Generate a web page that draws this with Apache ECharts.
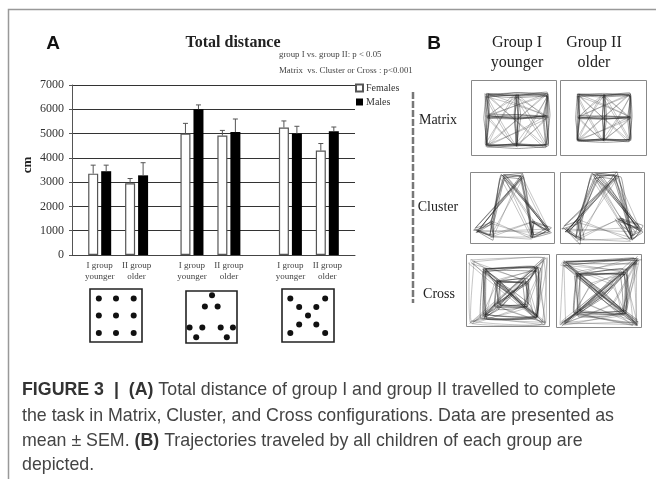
<!DOCTYPE html>
<html><head><meta charset="utf-8">
<script src="https://cdn.jsdelivr.net/npm/echarts@6/dist/echarts.min.js"></script>
<style>html,body{margin:0;padding:0;background:#fff}#c{width:656px;height:479px;filter:blur(.35px)}</style>
</head><body><div id="c"></div>
<script>
// ---- data ----
const barLabels = ['I group\nyounger','II group\nolder','I group\nyounger','II group\nolder','I group\nyounger','II group\nolder'];
const females    = [3350, 2950, 5000, 4920, 5250, 4300];
const femalesTop = [3700, 3150, 5420, 5130, 5520, 4590];
const males      = [3450, 3280, 6000, 5060, 5000, 5100];
const malesTop   = [3700, 3800, 6180, 5600, 5300, 5270];
// axis slots holding each pair of bars
const slotCount = 46;
const slots = [4,10,19,25,35,41];

// ---- axis tables ----
const cats = Array.from({length:slotCount},(_,i)=>{const k=slots.indexOf(i);return k<0?'':barLabels[k];});
const spread = a => cats.map((_,i)=>{const k=slots.indexOf(i);return k<0?null:a[k];});
const errData = (vals,tops)=>slots.map((s,k)=>[s,vals[k],tops[k]]);

const SERIF = '"Liberation Serif","Times New Roman",serif';
const SANS  = '"Liberation Sans",Arial,sans-serif';

function errSeries(name,vals,tops,off){
  return {type:'custom',name:name,silent:true,z:4,data:errData(vals,tops),encode:{x:0,y:[1,2]},
    renderItem:(p,api)=>{
      const a=api.coord([api.value(0),api.value(1)]),b=api.coord([api.value(0),api.value(2)]);
      const x=a[0]+off;
      return {type:'group',children:[
        {type:'line',shape:{x1:x,y1:a[1],x2:x,y2:b[1]},style:{stroke:'#555',lineWidth:1}},
        {type:'line',shape:{x1:x-2.5,y1:b[1],x2:x+2.5,y2:b[1]},style:{stroke:'#555',lineWidth:1}}
      ]};
    }};
}

// ---- panel A stimulus layouts ----
const stim = [
 {box:[90,289,52,53],dots:[[.17,.18],[.5,.18],[.84,.18],[.17,.5],[.5,.5],[.84,.5],[.17,.83],[.5,.83],[.84,.83]]},
 {box:[186,291,51,52],dots:[[.51,.08],[.37,.3],[.62,.3],[.07,.7],[.32,.7],[.68,.7],[.92,.7],[.2,.89],[.8,.89]]},
 {box:[282,289,52,53],dots:[[.16,.18],[.83,.18],[.33,.34],[.66,.34],[.5,.5],[.33,.67],[.66,.67],[.16,.83],[.83,.83]]}
];

// ---- panel B trajectory sketches: the first `core` routes are retraced on every pass ----
const matRoutes=[[0,1,2,5,8,7,6,3,0],[3,4,5],[1,4,7],[0,8],[2,6],[1,5,7,3,1],[3,2,7,0,5,6,1,8]];
const cluRoutes=[[0,1,7],[1,2,3,0,6],[3,4,2],[5,6,7,5],[4,5],[3,7,4],[0,5,6,1],[2,6],[1,4,0,7]];
const croRoutes=[[4,8,12,11,7],[5,9,12,10,6],[4,5,7,6,4],[8,9,11,10,8],[0,4],[1,5],[2,6],[3,7],[0,1,3,2,0],[0,7,1,6,3],[2,5,3,4],[0,9,2,11,1,10,3,8],[4,7,9,6,8,5]];
const croRoutesWide=[[0,12,3],[1,12,2],[0,1],[4,5,7,6,4],[0,2],[1,3],[2,3],[0,7,1,6,3],[2,5,3,4],[0,9,2,11,1,10,3,8],[4,7,9,6,8,5],[0,5,2,7,1,4,3,6]];
const wobble=[[0,0],[-2,1],[2,-2],[1,3],[-1,-2],[3,1],[-3,-1],[.5,3],[-1,-3],[4,-1],[-4,2]];
const panels=[
 {box:[471,80,85,75],routes:matRoutes,core:3,nodes:[[.19,.2],[.54,.2],[.89,.2],[.19,.49],[.54,.49],[.89,.49],[.19,.87],[.54,.87],[.89,.87]],n:7,w:.55},
 {box:[560,80,86,75],routes:matRoutes,core:3,nodes:[[.21,.2],[.51,.2],[.81,.2],[.21,.5],[.51,.5],[.81,.5],[.21,.8],[.51,.8],[.81,.8]],n:6,w:.4},
 {box:[470,172,84,71],routes:cluRoutes,core:4,nodes:[[.4,.06],[.62,.06],[.08,.82],[.26,.7],[.26,.91],[.74,.7],[.94,.82],[.74,.91]],n:5,w:.6},
 {box:[560,172,84,71],routes:cluRoutes,core:4,nodes:[[.42,.05],[.67,.05],[.07,.8],[.22,.68],[.22,.95],[.7,.66],[.95,.8],[.85,.93]],n:6,w:.8},
 {box:[466,254,83,72],routes:croRoutes,core:4,nodes:[[.07,.1],[.95,.06],[.07,.95],[.95,.95],[.22,.22],[.85,.2],[.22,.87],[.85,.87],[.38,.38],[.72,.38],[.38,.72],[.72,.72],[.55,.55]],n:6,w:.6},
 {box:[556,254,85,73],routes:croRoutesWide,core:4,nodes:[[.1,.12],[.95,.08],[.08,.95],[.95,.95],[.25,.28],[.8,.25],[.25,.8],[.8,.8],[.4,.42],[.68,.42],[.4,.68],[.68,.68],[.54,.55]],n:6,w:.7}
];

const gfx=[];
const txt=(x,y,t,font,extra)=>gfx.push({type:'text',x,y,style:Object.assign({text:t,font,fill:'#222',textAlign:'center',textVerticalAlign:'middle'},extra||{})});
// frame
gfx.push({type:'polyline',shape:{points:[[8.5,479],[8.5,9.5],[656,9.5]]},style:{stroke:'#999',fill:'none',lineWidth:1.5}});
txt(53,44,'A','bold 19px '+SANS,{fill:'#111'});
txt(434,44,'B','bold 19px '+SANS,{fill:'#111'});
txt(233,43,'Total distance','bold 16px '+SERIF,{fill:'#222'});
txt(279,55,'group I vs. group II: p < 0.05','8.8px '+SERIF,{textAlign:'left',fill:'#444'});
txt(279,71,'Matrix  vs. Cluster or Cross : p<0.001','8.8px '+SERIF,{textAlign:'left',fill:'#444'});
txt(28,165,'cm','bold 13px '+SERIF,{});
gfx[gfx.length-1].rotation=Math.PI/2;
// stimulus boxes
stim.forEach(s=>{
  const [x,y,w,h]=s.box;
  gfx.push({type:'rect',shape:{x,y,width:w,height:h},style:{fill:'#fff',stroke:'#222',lineWidth:1.6}});
  s.dots.forEach(d=>gfx.push({type:'circle',shape:{cx:x+d[0]*w,cy:y+d[1]*h,r:3},style:{fill:'#111'}}));
});
// panel B
txt(517,43,'Group I','16px '+SERIF);txt(517,63,'younger','16px '+SERIF);
txt(594,43,'Group II','16px '+SERIF);txt(594,63,'older','16px '+SERIF);
txt(438,120,'Matrix','14px '+SERIF);txt(438,207,'Cluster','14px '+SERIF);txt(439,294,'Cross','14px '+SERIF);
gfx.push({type:'line',shape:{x1:413,y1:92,x2:413,y2:303},style:{stroke:'#777',lineWidth:2.5,lineDash:[7,2]}});
panels.forEach(p=>{
  const [x,y,w,h]=p.box;
  gfx.push({type:'rect',shape:{x:x+.5,y:y+.5,width:w,height:h},style:{fill:'#fff',stroke:'#888',lineWidth:1}});
  for(let i=0;i<p.n;i++){
    const o=wobble[i%wobble.length];
    p.routes.forEach((r,j)=>{
      if(j>=p.core && i>1) return;
      const pts=r.map((k,m)=>{
        const q=wobble[(i*3+j*2+m)%wobble.length];
        return [x+p.nodes[k][0]*w+(o[0]+q[0])*p.w, y+p.nodes[k][1]*h+(o[1]+q[1])*p.w];
      });
      gfx.push({type:'polyline',shape:{points:pts,smooth:.08},style:{stroke:j<p.core?'rgba(30,30,30,.6)':'rgba(90,90,90,.5)',fill:'none',lineWidth:.7}});
    });
  }
});
// caption
const capY=[390,416,441,465];
const capX=22, capSize=17.8, capFont=capSize+'px '+SANS, capBold='bold '+capSize+'px '+SANS;
gfx.push({type:'text',x:capX,y:capY[0],style:{
  text:'{b|FIGURE 3  |  (A)}{n| Total distance of group I and group II travelled to complete}',
  textVerticalAlign:'middle',rich:{b:{font:capBold,fill:'#333'},n:{font:capFont,fill:'#444'}}}});
gfx.push({type:'text',x:capX,y:capY[1],style:{text:'the task in Matrix, Cluster, and Cross configurations. Data are presented as',textVerticalAlign:'middle',font:capFont,fill:'#444'}});
gfx.push({type:'text',x:capX,y:capY[2],style:{
  text:'{n|mean ± SEM. }{b|(B)}{n| Trajectories traveled by all children of each group are}',
  textVerticalAlign:'middle',rich:{b:{font:capBold,fill:'#333'},n:{font:capFont,fill:'#444'}}}});
gfx.push({type:'text',x:capX,y:capY[3],style:{text:'depicted.',textVerticalAlign:'middle',font:capFont,fill:'#444'}});

const chart=echarts.init(document.getElementById('c'),null,{renderer:'canvas'});
chart.setOption({
  animation:false,backgroundColor:'#fff',
  grid:{left:72,top:85,width:283,height:170,containLabel:false},
  legend:{data:[{name:'Females',icon:'rect'},{name:'Males',icon:'rect'}],orient:'vertical',left:350,top:78,itemWidth:7,itemHeight:7,itemGap:4,
    textStyle:{fontFamily:SERIF,fontSize:10,color:'#333',padding:[0,0,0,-2]},selectedMode:false},
  xAxis:{type:'category',data:cats,
    axisLine:{lineStyle:{color:'#444',width:1}},axisTick:{show:false},
    axisLabel:{interval:0,fontFamily:SERIF,fontSize:9,color:'#444',lineHeight:11,margin:5}},
  yAxis:{type:'value',min:0,max:7000,interval:1000,
    axisLine:{show:true,lineStyle:{color:'#555'}},axisTick:{show:true,length:3,lineStyle:{color:'#555'}},
    axisLabel:{fontFamily:SERIF,fontSize:12,color:'#333',margin:8,formatter:v=>String(v)},
    splitLine:{lineStyle:{color:'#333',width:1}}},
  series:[
    {type:'bar',name:'Females',data:spread(females),barWidth:10,barGap:'30%',z:3,
     itemStyle:{color:'#fff',borderColor:'#555',borderWidth:1.2}},
    {type:'bar',name:'Males',data:spread(males),barWidth:10,z:3,
     itemStyle:{color:'#000',borderColor:'#000',borderWidth:0}},
    errSeries('Females SEM',females,femalesTop,-6.5),
    errSeries('Males SEM',males,malesTop,6.5)
  ],
  graphic:{elements:gfx}
});
</script></body></html>
